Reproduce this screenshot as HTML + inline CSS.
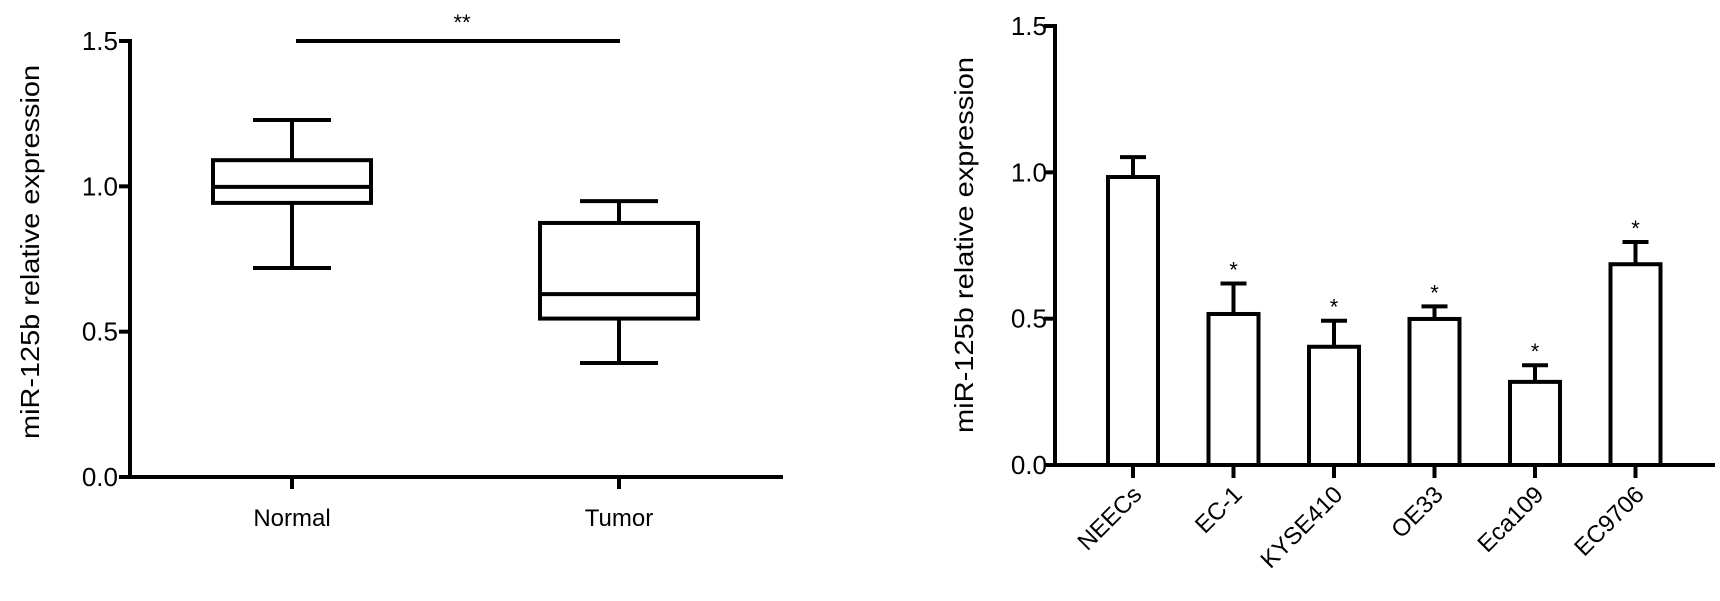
<!DOCTYPE html>
<html><head><meta charset="utf-8"><style>
html,body{margin:0;padding:0;background:#fff;}
svg{display:block;font-family:"Liberation Sans",Arial,sans-serif;}
</style></head><body>
<svg id="fig" width="1720" height="601" viewBox="0 0 1720 601"></svg>
<script>
// Left panel: box plot data
const boxCategories = ["Normal", "Tumor"];
const boxMin = [0.719, 0.392];
const boxQ1 = [0.943, 0.545];
const boxMedian = [0.998, 0.629];
const boxQ3 = [1.09, 0.874];
const boxMax = [1.228, 0.949];
const leftTicks = [0.0, 0.5, 1.0, 1.5];
const leftTickLabels = ["0.0", "0.5", "1.0", "1.5"];
// Right panel: bar chart data
const barCategories = ["NEECs", "EC-1", "KYSE410", "OE33", "Eca109", "EC9706"];
const barValues = [0.984, 0.516, 0.404, 0.499, 0.284, 0.686];
const barErrors = [0.068, 0.104, 0.089, 0.043, 0.057, 0.076];
const barStars = ["", "*", "*", "*", "*", "*"];
const rightTicks = [0.0, 0.5, 1.0, 1.5];
const rightTickLabels = ["0.0", "0.5", "1.0", "1.5"];

const NS = "http://www.w3.org/2000/svg";
const svg = document.getElementById("fig");
function mk(tag, attrs, parent) {
  const e = document.createElementNS(NS, tag);
  for (const k in attrs) e.setAttribute(k, attrs[k]);
  (parent || svg).appendChild(e);
  return e;
}
const SW = 4;

// ---- Left panel ----
const L = { x0: 130, x1: 783, y0: 477, y1: 41, vmax: 1.5 };
const ly = v => L.y0 - (v / L.vmax) * (L.y0 - L.y1);
const lx = i => [292, 619][i];
const gL = mk("g", {});


let e;
e = mk("line", { x1: L.x0, y1: L.y1 - 2, x2: L.x0, y2: L.y0 + 2, stroke: "#000", "stroke-width": SW }, gL);


e = mk("line", { x1: L.x0 - 2, y1: L.y0, x2: L.x1, y2: L.y0, stroke: "#000", "stroke-width": SW }, gL);


leftTicks.forEach((t, i) => {
  const y = ly(t);
  e = mk("line", { x1: L.x0 - 11, y1: y, x2: L.x0, y2: y, stroke: "#000", "stroke-width": SW }, gL);
  
  
  e = mk("text", { x: L.x0 - 12, y: y + 9, "text-anchor": "end", "font-size": 26 }, gL);
  e.textContent = leftTickLabels[i];
  
  
});
e = mk("text", { x: 0, y: 0, "text-anchor": "middle", "font-size": 26, transform: "translate(39,252) rotate(-90)", textLength: 374, lengthAdjust: "spacingAndGlyphs" }, gL);
e.textContent = "miR-125b relative expression";


boxCategories.forEach((c, i) => {
  const cx = lx(i);
  const g = mk("g", {}, gL);
  
  
  const hw = 79, cw = 39;
  mk("line", { x1: cx, y1: ly(boxMax[i]), x2: cx, y2: ly(boxQ3[i]), stroke: "#000", "stroke-width": SW }, g);
  mk("line", { x1: cx, y1: ly(boxQ1[i]), x2: cx, y2: ly(boxMin[i]), stroke: "#000", "stroke-width": SW }, g);
  mk("line", { x1: cx - cw, y1: ly(boxMax[i]), x2: cx + cw, y2: ly(boxMax[i]), stroke: "#000", "stroke-width": SW }, g);
  mk("line", { x1: cx - cw, y1: ly(boxMin[i]), x2: cx + cw, y2: ly(boxMin[i]), stroke: "#000", "stroke-width": SW }, g);
  mk("rect", { x: cx - hw, y: ly(boxQ3[i]), width: 2 * hw, height: ly(boxQ1[i]) - ly(boxQ3[i]), fill: "#fff", stroke: "#000", "stroke-width": SW }, g);
  mk("line", { x1: cx - hw, y1: ly(boxMedian[i]), x2: cx + hw, y2: ly(boxMedian[i]), stroke: "#000", "stroke-width": SW }, g);
  e = mk("line", { x1: cx, y1: L.y0, x2: cx, y2: L.y0 + 12, stroke: "#000", "stroke-width": SW }, gL);
  
  
  e = mk("text", { x: cx, y: 526, "text-anchor": "middle", "font-size": 24 }, gL);
  e.textContent = c;
  
  
});
e = mk("line", { x1: 296, y1: ly(1.5), x2: 620, y2: ly(1.5), stroke: "#000", "stroke-width": SW }, gL);


e = mk("text", { x: 462, y: 30, "text-anchor": "middle", "font-size": 22 }, gL);
e.textContent = "**";



// ---- Right panel ----
const R = { x0: 1055, x1: 1715, y0: 465, y1: 26, vmax: 1.5, first: 1133, step: 100.5 };
const ry = v => R.y0 - (v / R.vmax) * (R.y0 - R.y1);
const rx = i => R.first + i * R.step;
const gR = mk("g", {});


e = mk("line", { x1: R.x0, y1: R.y1 - 2, x2: R.x0, y2: R.y0 + 2, stroke: "#000", "stroke-width": SW }, gR);


rightTicks.forEach((t, i) => {
  const y = ry(t);
  e = mk("line", { x1: R.x0 - 11, y1: y, x2: R.x0, y2: y, stroke: "#000", "stroke-width": SW }, gR);
  
  
  e = mk("text", { x: R.x0 - 8, y: y + 9, "text-anchor": "end", "font-size": 26 }, gR);
  e.textContent = rightTickLabels[i];
  
  
});
e = mk("text", { x: 0, y: 0, "text-anchor": "middle", "font-size": 26, transform: "translate(973,245) rotate(-90)", textLength: 376, lengthAdjust: "spacingAndGlyphs" }, gR);
e.textContent = "miR-125b relative expression";


barCategories.forEach((c, i) => {
  const cx = rx(i);
  const g = mk("g", {}, gR);
  
  
  const bw = 50, top = ry(barValues[i]), etop = ry(barValues[i] + barErrors[i]);
  mk("line", { x1: cx, y1: etop, x2: cx, y2: top, stroke: "#000", "stroke-width": SW }, g);
  mk("line", { x1: cx - 13, y1: etop, x2: cx + 13, y2: etop, stroke: "#000", "stroke-width": SW }, g);
  mk("rect", { x: cx - bw / 2, y: top, width: bw, height: R.y0 - top, fill: "#fff", stroke: "#000", "stroke-width": SW }, g);
  if (barStars[i]) {
    e = mk("text", { x: cx, y: etop - 6, "text-anchor": "middle", "font-size": 22 }, g);
    e.textContent = barStars[i];
    
    
  }
  e = mk("line", { x1: cx, y1: R.y0, x2: cx, y2: R.y0 + 13, stroke: "#000", "stroke-width": SW }, gR);
  
  
  e = mk("text", { x: 0, y: 0, "text-anchor": "end", "font-size": 24, transform: "translate(" + (cx + 10) + ",496) rotate(-45)" }, gR);
  e.textContent = c;
  
  
});
e = mk("line", { x1: R.x0 - 2, y1: R.y0, x2: R.x1, y2: R.y0, stroke: "#000", "stroke-width": SW }, gR);


</script>
</body></html>
